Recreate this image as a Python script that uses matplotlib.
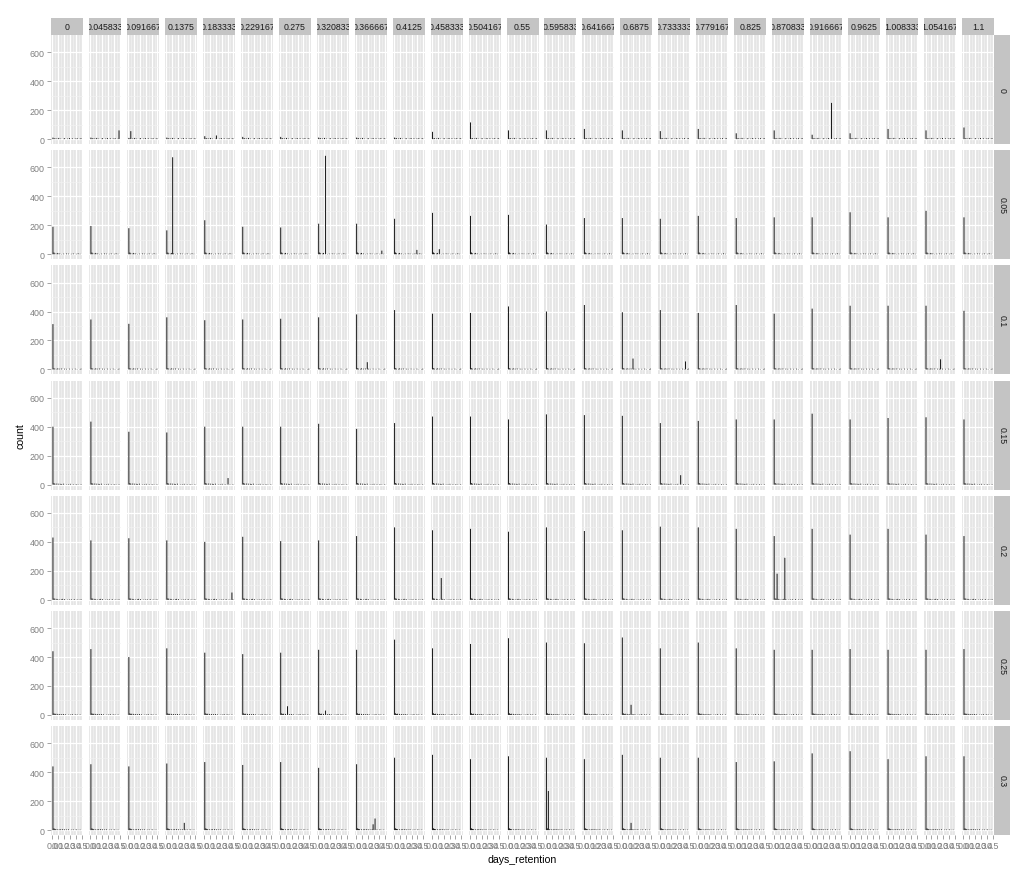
import numpy as np
import matplotlib.pyplot as plt

plt.rcParams['font.family'] = ['Liberation Sans', 'DejaVu Sans']

# facet labels
col_labels = ["0", "0.045833", "0.091667", "0.1375", "0.183333", "0.229167",
              "0.275", "0.320833", "0.366667", "0.4125", "0.458333", "0.504167",
              "0.55", "0.595833", "0.641667", "0.6875", "0.733333", "0.779167",
              "0.825", "0.870833", "0.916667", "0.9625", "1.008333", "1.054167", "1.1"]
row_labels = ["0", "0.05", "0.1", "0.15", "0.2", "0.25", "0.3"]

x_ticks = [0.0, 0.1, 0.2, 0.3, 0.4, 0.5]
x_tick_labels = ["0.0", "0.1", "0.2", "0.3", "0.4", "0.5"]
y_ticks = [0, 200, 400, 600]

# count in the first bin of every panel (rows x columns)
first_bin = [
    [10, 10, 8, 10, 20, 15, 15, 10, 10, 10, 50, 115, 60, 60, 70, 60, 55, 70, 40, 60, 30, 40, 70, 60, 80],
    [190, 195, 180, 165, 235, 190, 185, 211, 211, 245, 286, 265, 272, 205, 250, 250, 245, 265, 250, 255, 255, 290, 255, 300, 255],
    [313, 345, 315, 360, 340, 345, 350, 360, 380, 410, 385, 390, 435, 400, 445, 395, 410, 390, 445, 385, 420, 440, 440, 440, 405],
    [400, 435, 365, 360, 400, 400, 400, 420, 385, 425, 470, 470, 450, 485, 480, 475, 425, 440, 450, 450, 490, 450, 460, 465, 450],
    [430, 410, 425, 410, 400, 435, 405, 410, 440, 500, 480, 490, 470, 500, 475, 480, 505, 500, 490, 440, 490, 450, 490, 450, 440],
    [440, 455, 400, 460, 430, 420, 430, 450, 450, 520, 460, 490, 530, 500, 495, 535, 460, 500, 460, 450, 450, 455, 450, 450, 455],
    [440, 455, 440, 460, 470, 450, 470, 430, 455, 500, 520, 490, 510, 500, 490, 520, 500, 500, 470, 475, 530, 545, 490, 510, 510],
]

# small counts in bins 1..29, one list per row
tail_counts = [
    [3, 6, 0, 4, 0, 8, 0, 3, 0, 0, 2, 6, 0, 0, 3, 0, 7, 0, 0, 5, 0, 0, 4, 0, 6, 0, 0, 3, 5],
    [12, 6, 0, 4, 9, 0, 5, 0, 2, 0, 4, 0, 0, 5, 0, 4, 0, 0, 3, 0, 5, 0, 0, 3, 0, 6, 0, 3, 0],
    [8, 5, 0, 4, 7, 0, 5, 0, 6, 0, 0, 5, 0, 4, 0, 0, 5, 0, 0, 4, 0, 0, 5, 0, 2, 0, 0, 3, 5],
    [10, 6, 0, 7, 0, 6, 0, 5, 4, 0, 6, 0, 0, 2, 0, 3, 0, 5, 0, 0, 3, 0, 0, 4, 0, 2, 0, 0, 3],
    [9, 7, 0, 6, 4, 0, 3, 0, 4, 6, 0, 5, 0, 0, 2, 0, 3, 0, 4, 0, 0, 5, 0, 0, 3, 0, 2, 0, 4],
    [11, 6, 8, 0, 7, 0, 6, 0, 5, 0, 6, 0, 4, 0, 0, 2, 0, 3, 0, 5, 0, 0, 4, 0, 3, 0, 0, 3, 0],
    [12, 8, 6, 0, 5, 0, 4, 5, 0, 6, 0, 5, 0, 4, 0, 5, 0, 0, 3, 0, 4, 0, 0, 5, 0, 2, 0, 3, 0],
]

# isolated taller bars: (row, column, bin, count)
spikes = [
    (0, 1, 29, 60), (0, 2, 2, 55), (0, 20, 20, 250), (0, 4, 12, 25),
    (1, 3, 6, 670), (1, 7, 7, 680), (1, 8, 26, 25), (1, 9, 23, 30), (1, 10, 7, 35),
    (2, 8, 11, 50), (2, 15, 11, 75), (2, 16, 26, 55), (2, 23, 15, 70),
    (3, 4, 24, 45), (3, 16, 21, 65),
    (4, 10, 9, 150), (4, 19, 3, 180), (4, 19, 11, 290), (4, 4, 28, 50),
    (5, 6, 7, 60), (5, 7, 7, 30), (5, 15, 9, 70),
    (6, 8, 19, 80), (6, 8, 17, 40), (6, 13, 2, 270), (6, 3, 18, 50), (6, 15, 9, 50),
]

n_bins = 30
x_max = 0.5
bin_w = x_max / n_bins
x_lim = (-0.025, 0.525)
y_lim = (-34, 719)

W, H = 1030, 879
fig = plt.figure(figsize=(W / 100, H / 100), dpi=100)
fig.patch.set_facecolor('white')

left0, top0 = 51, 36
pw, ph = 32, 109
col_step, row_step = 37.96, 115.17
grey50 = '#7F7F7F'
strip_bg = '#C4C4C4'


def px_axes(x, y, w, h):
    return fig.add_axes([x / W, 1 - (y + h) / H, w / W, h / H])


n_rows, n_cols = len(row_labels), len(col_labels)
edges = np.arange(n_bins) * bin_w

for r in range(n_rows):
    for c in range(n_cols):
        x0 = left0 + c * col_step
        y0 = top0 + r * row_step
        ax = px_axes(x0, y0, pw, ph)
        ax.set_facecolor('#E5E5E5')
        for s in ax.spines.values():
            s.set_visible(False)

        counts = np.array([first_bin[r][c]] + tail_counts[r], dtype=float)
        for (sr, sc, b, v) in spikes:
            if sr == r and sc == c:
                counts[b] = v
        ax.bar(edges, counts, width=bin_w, align='edge', color='#141414',
               linewidth=0, snap=False, zorder=3)

        ax.set_xlim(*x_lim)
        ax.set_ylim(*y_lim)
        ax.set_xticks(x_ticks)
        ax.set_xticks([0.05, 0.15, 0.25, 0.35, 0.45], minor=True)
        ax.set_yticks(y_ticks)
        ax.set_yticks([100, 300, 500], minor=True)
        ax.set_axisbelow(True)
        ax.grid(which='major', color='white', linewidth=0.9)
        ax.grid(which='minor', color='#F2F2F2', linewidth=0.45)
        ax.tick_params(which='minor', length=0)
        ax.tick_params(which='major', length=3, width=0.5, color=grey50,
                       labelsize=6.4, labelcolor=grey50, pad=1.5)
        ax.set_xticklabels(x_tick_labels)
        ax.set_yticklabels([str(v) for v in y_ticks])
        if c != 0:
            ax.tick_params(left=False, labelleft=False)
        if r != n_rows - 1:
            ax.tick_params(bottom=False, labelbottom=False)

        if r == 0:
            sax = px_axes(x0, 19, pw, 17)
            sax.set_facecolor(strip_bg)
            sax.set_xticks([])
            sax.set_yticks([])
            for s in sax.spines.values():
                s.set_visible(False)
            sax.text(0.5, 0.5, col_labels[c], ha='center', va='center',
                     fontsize=6.3, color='#1A1A1A', clip_on=True,
                     transform=sax.transAxes)

    rax = px_axes(left0 + (n_cols - 1) * col_step + pw, top0 + r * row_step, 16, ph)
    rax.set_facecolor(strip_bg)
    rax.set_xticks([])
    rax.set_yticks([])
    for s in rax.spines.values():
        s.set_visible(False)
    rax.text(0.5, 0.5, row_labels[r], ha='center', va='center', rotation=-90,
             fontsize=6.3, color='#1A1A1A', clip_on=True, transform=rax.transAxes)

fig.text(522 / W, 1 - 860 / H, "days_retention", ha='center', va='center', fontsize=7.6)
fig.text(20 / W, 1 - 436 / H, "count", ha='center', va='center', rotation=90, fontsize=7.6)

fig.savefig('out.png', dpi=100, facecolor='white')
